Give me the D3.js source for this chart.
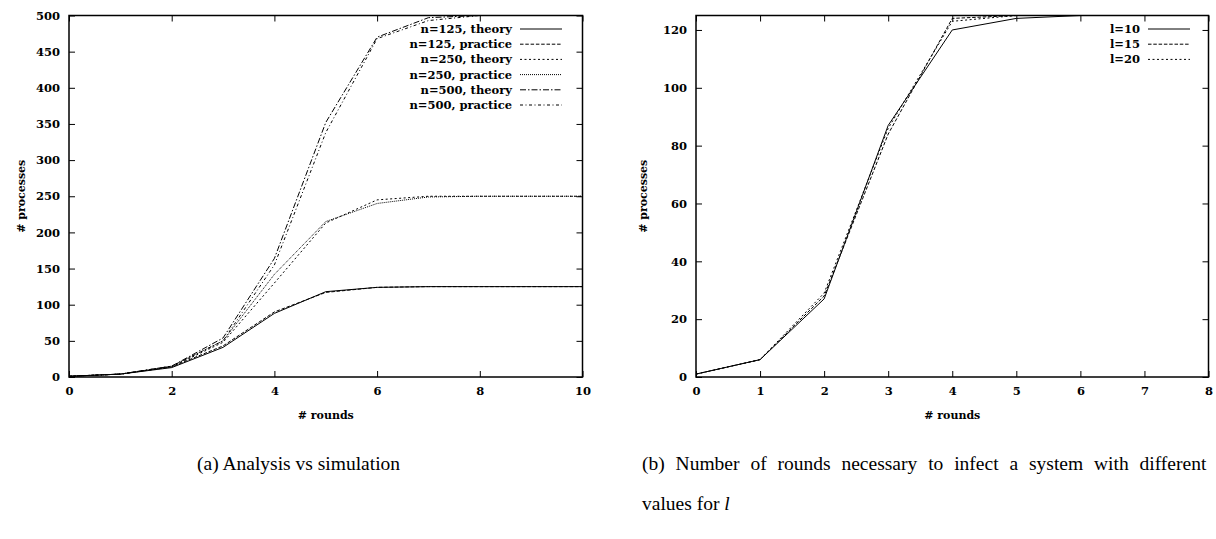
<!DOCTYPE html>
<html>
<head>
<meta charset="utf-8">
<script src="https://cdn.jsdelivr.net/npm/d3@7"></script>
<style>
    body { margin: 0; background: #fff; }
    svg { display: block; }
    .tick text { font-family: "DejaVu Serif", serif; font-weight: bold; font-size: 11.5px; fill: #000; }
    .label { font-family: "DejaVu Serif", serif; font-weight: bold; font-size: 11px; }
    .legend text { font-family: "DejaVu Serif", serif; font-weight: bold; font-size: 11.5px; }
    .caption { font-family: "Liberation Serif", "Times New Roman", serif; font-size: 19.5px; }
</style>
</head>
<body>
<svg id="chart" width="1216" height="539"></svg>
<script>
// left panel: analysis vs simulation
const roundsA = [0, 1, 2, 3, 4, 5, 6, 7, 8, 9, 10]
const n125Theory = [1, 4, 13, 41, 88, 118, 124, 125, 125, 125, 125]
const n125Practice = [1, 4, 14, 43, 90, 117, 124, 125, 125, 125, 125]
const n250Theory = [1, 4, 14, 48, 130, 213, 245, 250, 250, 250, 250]
const n250Practice = [1, 4, 15, 50, 142, 215, 240, 249, 250, 250, 250]
const n500Theory = [1, 4, 15, 54, 164, 352, 470, 497, 500, 500, 500]
const n500Practice = [1, 4, 15, 50, 155, 338, 468, 493, 500, 500, 500]
const labelsA = ['n=125, theory', 'n=125, practice', 'n=250, theory',
    'n=250, practice', 'n=500, theory', 'n=500, practice']
const xTicksA = [0, 2, 4, 6, 8, 10]
const yTicksA = [0, 50, 100, 150, 200, 250, 300, 350, 400, 450, 500]

// right panel: different values for l
const roundsB = [0, 1, 2, 3, 4, 5, 6]
const l10 = [1, 6, 27, 87, 120, 124, 125]
const l15 = [1, 6, 28, 84, 124, 125, 125]
const l20 = [1, 6, 29, 86, 123, 125, 125]
const labelsB = ['l=10', 'l=15', 'l=20']
const xTicksB = [0, 1, 2, 3, 4, 5, 6, 7, 8]
const yTicksB = [0, 20, 40, 60, 80, 100, 120]

// gnuplot-ish line types
const dashes = [null, '3.5,1.8', '2,2.5', '1,1', '6,2,1.5,2', '3,2.5,1,2.5']

const svg = d3.select('#chart')

const drawPanel = (cfg) => {
    const g = svg.append('g')
    const x = d3.scaleLinear().domain(cfg.xDomain).range([cfg.left, cfg.right])
    const y = d3.scaleLinear().domain(cfg.yDomain).range([cfg.bottom, cfg.top])

    // ticks point inward on all four sides
    g.append('g')
        .attr('transform', `translate(0,${cfg.bottom})`)
        .call(d3.axisBottom(x).tickValues(cfg.xTicks).tickSize(-6).tickPadding(10))
    g.append('g')
        .attr('transform', `translate(0,${cfg.top})`)
        .call(d3.axisTop(x).tickValues(cfg.xTicks).tickSize(-6).tickFormat(''))
    g.append('g')
        .attr('transform', `translate(${cfg.left},0)`)
        .call(d3.axisLeft(y).tickValues(cfg.yTicks).tickSize(-6).tickPadding(9))
    g.append('g')
        .attr('transform', `translate(${cfg.right},0)`)
        .call(d3.axisRight(y).tickValues(cfg.yTicks).tickSize(-6).tickFormat(''))
    g.selectAll('.domain').remove()
    g.selectAll('.tick line').attr('stroke', '#000').attr('stroke-width', 1)

    const line = d3.line()
        .x((d, i) => x(cfg.xs[i]))
        .y(d => y(d))

    cfg.series.forEach((s, i) => {
        g.append('path')
            .attr('d', line(s))
            .attr('fill', 'none')
            .attr('stroke', '#000')
            .attr('stroke-width', 1)
            .attr('stroke-dasharray', dashes[i])
    })

    g.append('rect')
        .attr('x', cfg.left).attr('y', cfg.top)
        .attr('width', cfg.right - cfg.left).attr('height', cfg.bottom - cfg.top)
        .attr('fill', 'none').attr('stroke', '#000').attr('stroke-width', 1.5)

    const legend = g.append('g').classed('legend', true)
    cfg.labels.forEach((name, i) => {
        const ly = cfg.legendTop + i * 15.2
        legend.append('text')
            .attr('x', cfg.legendX).attr('y', ly + 4)
            .attr('text-anchor', 'end')
            .text(name)
        legend.append('line')
            .attr('x1', cfg.legendX + 8).attr('x2', cfg.legendX + 50)
            .attr('y1', ly).attr('y2', ly)
            .attr('stroke', '#000').attr('stroke-width', 1)
            .attr('stroke-dasharray', dashes[i])
    })

    g.append('text').classed('label', true)
        .attr('x', (cfg.left + cfg.right) / 2).attr('y', cfg.bottom + 42)
        .attr('text-anchor', 'middle')
        .text('# rounds')
    g.append('text').classed('label', true)
        .attr('transform', `translate(${cfg.yLabelX},${(cfg.top + cfg.bottom) / 2}) rotate(-90)`)
        .attr('text-anchor', 'middle')
        .text('# processes')
}

drawPanel({
    left: 69, right: 582.5, top: 15.5, bottom: 377,
    xDomain: [0, 10], yDomain: [0, 500],
    xTicks: xTicksA, yTicks: yTicksA,
    xs: roundsA,
    series: [n125Theory, n125Practice, n250Theory, n250Practice, n500Theory, n500Practice],
    labels: labelsA, legendX: 512, legendTop: 29,
    yLabelX: 25
})

drawPanel({
    left: 696, right: 1208.5, top: 15.5, bottom: 377,
    xDomain: [0, 8], yDomain: [0, 125],
    xTicks: xTicksB, yTicks: yTicksB,
    xs: roundsB,
    series: [l10, l15, l20],
    labels: labelsB, legendX: 1140, legendTop: 29,
    yLabelX: 647
})

// captions under the panels
svg.append('text').classed('caption', true)
    .attr('x', 197).attr('y', 470)
    .text('(a) Analysis vs simulation')
svg.append('text').classed('caption', true)
    .attr('x', 642).attr('y', 470)
    .style('word-spacing', '6px')
    .text('(b) Number of rounds necessary to infect a system with different')
const cap2 = svg.append('text').classed('caption', true)
    .attr('x', 642).attr('y', 510)
cap2.append('tspan').text('values for ')
cap2.append('tspan').style('font-style', 'italic').text('l')
</script>
</body>
</html>
